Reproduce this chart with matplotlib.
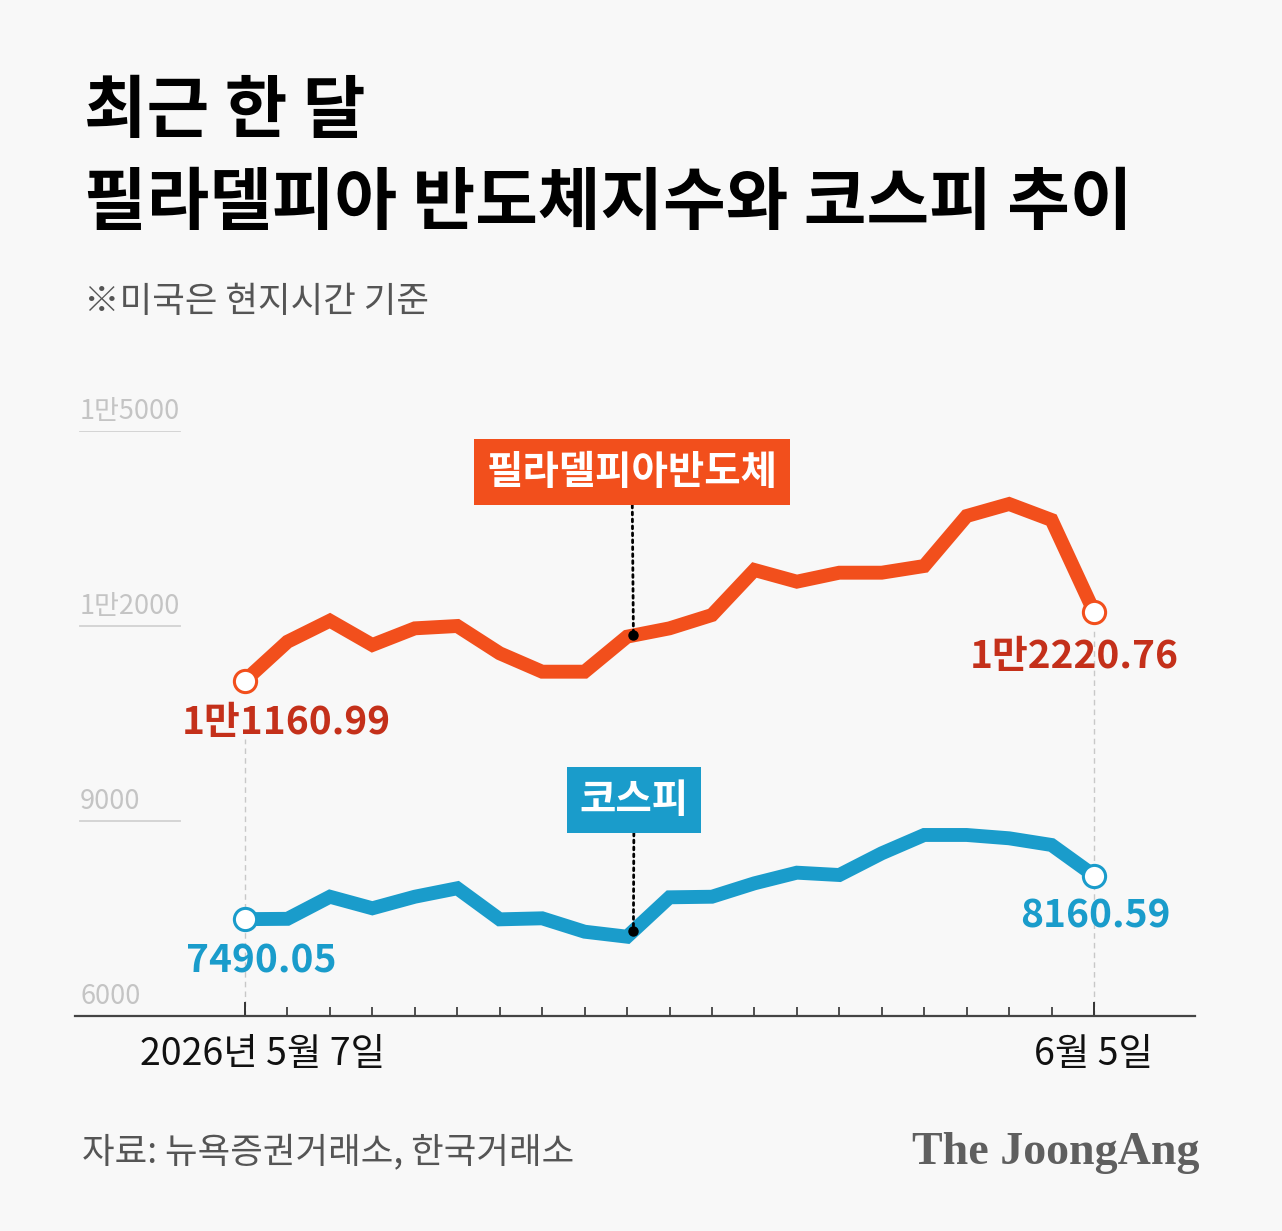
import numpy as np
import matplotlib
matplotlib.use("Agg")
import matplotlib.pyplot as plt
import matplotlib.transforms as mtransforms

plt.rcParams['font.family'] = ['Noto Sans CJK KR', 'DejaVu Sans']

# values (21 trading days, 5/7 -> 6/5)
sox = [11160.99, 11758, 12082, 11708, 11964, 12000, 11580, 11297, 11297, 11836,
       11964, 12169, 12862, 12682, 12820, 12820, 12923, 13692, 13877, 13631, 12220.76]
kospi = [7490.05, 7495, 7835, 7657, 7835, 7965, 7487, 7503, 7297, 7220,
         7826, 7835, 8041, 8205, 8169, 8503, 8785, 8785, 8734, 8631, 8160.59]
yticks = [6000, 9000, 12000, 15000]
ytick_labels = ["6000", "9000", "1만2000", "1만5000"]
x_labels = ["2026년 5월 7일", "6월 5일"]
sox_name = "필라델피아반도체"
kospi_name = "코스피"

ORANGE = "#f24f1c"
RED = "#c4301a"
BLUE = "#1a9ccb"
BG = "#f8f8f8"

W, H = 1282, 1231
fig = plt.figure(figsize=(W / 100, H / 100), dpi=100, facecolor=BG)

def px(x):
    return x / W

def py(y):
    return 1 - y / H

ax = fig.add_axes([px(75), py(1016), (1195 - 75) / W, (1016 - 431) / H])
ax.set_facecolor(BG)
x = np.arange(len(sox))
step = (1094 - 245) / 20
ax.set_xlim(-(245 - 75) / step, (1195 - 245) / step)
ax.set_ylim(6000, 15000)

for s in ["top", "right", "left"]:
    ax.spines[s].set_visible(False)
ax.spines["bottom"].set_color("#444444")
ax.spines["bottom"].set_linewidth(1.6)
ax.set_yticks([])

ax.set_xticks([0, len(x) - 1])
ax.set_xticklabels(x_labels, fontsize=27, color="#111111")
ax.set_xticks(x[1:-1], minor=True)
ax.tick_params(axis="x", which="major", direction="in", length=10, width=1.4,
               color="#333333", pad=14)
ax.tick_params(axis="x", which="minor", direction="in", length=6.5, width=1.2,
               color="#333333")
# first date label sits a bit right of its tick
first = ax.get_xticklabels()[0]
first.set_transform(first.get_transform() +
                    mtransforms.ScaledTranslation(18 / 100, 0, fig.dpi_scale_trans))

# short gridlines with labels
for v, lab in zip(yticks, ytick_labels):
    if v != 6000:
        ax.axhline(v, xmin=5 / 1120, xmax=105 / 1120, color="#d2d2d2", lw=1.3)
    ax.annotate(lab, (-(245 - 80) / step, v), xytext=(0, 4), textcoords="offset points",
                fontsize=19.5, color="#c4c4c4", ha="left", va="bottom")

# dashed guides at first and last day
ax.plot([0, 0], [6000, sox[0] - 900], ls=(0, (4, 3)), color="#c8c8c8", lw=1, zorder=1)
ax.plot([20, 20], [6000, sox[-1] - 300], ls=(0, (4, 3)), color="#c8c8c8", lw=1, zorder=1)

ax.plot(x, sox, color=ORANGE, lw=10, solid_joinstyle="miter", zorder=3)
ax.plot(x, kospi, color=BLUE, lw=10, solid_joinstyle="miter", zorder=3)
for series, c in [(sox, ORANGE), (kospi, BLUE)]:
    ax.plot([x[0], x[-1]], [series[0], series[-1]], "o", ms=16, mfc="white",
            mec=c, mew=2.2, zorder=4)

# end labels
lab_kw = dict(textcoords="offset points", fontsize=28, fontweight="bold",
              ha="center", va="center", zorder=5)
ax.annotate("1만1160.99", (0, sox[0]), xytext=(30, -30), color=RED, **lab_kw)
ax.annotate("1만2220.76", (20, sox[-1]), xytext=(-14, -32), color=RED, **lab_kw)
ax.annotate("7490.05", (0, kospi[0]), xytext=(12, -30), color=BLUE, **lab_kw)
ax.annotate("8160.59", (20, kospi[-1]), xytext=(1, -29), color=BLUE, **lab_kw)

# series name boxes with dotted leaders
xd = 9.15
for name, series, c, tx, ty in [(sox_name, sox, ORANGE, 632, 472),
                                (kospi_name, kospi, BLUE, 634, 800)]:
    yd = np.interp(xd, x, series)
    ax.plot([xd], [yd], "o", color="black", ms=6.5, zorder=6)
    ax.annotate(name, (xd, yd), xytext=(px(tx), py(ty)), textcoords="figure fraction",
                fontsize=28.5, fontweight="bold", color="white", ha="center", va="center",
                bbox=dict(boxstyle="square,pad=0.32", fc=c, ec="none"),
                arrowprops=dict(arrowstyle="-", ls=(0, (1, 1.5)), color="black", lw=2,
                                shrinkA=0, shrinkB=0), zorder=5)

# titles
fig.text(px(84), py(113), "최근 한 달", fontsize=49, fontweight="heavy", color="black",
         ha="left", va="center")
fig.text(px(84), py(204), "필라델피아 반도체지수와 코스피 추이", fontsize=49,
         fontweight="heavy", color="black", ha="left", va="center")
fig.text(px(84), py(302), "※미국은 현지시간 기준", fontsize=25.5, fontweight="medium",
         color="#555555", ha="left", va="center")

fig.text(px(82), py(1152), "자료: 뉴욕증권거래소, 한국거래소", fontsize=25.5,
         fontweight="medium", color="#555555", ha="left", va="center")
fig.text(px(1200), py(1153), "The JoongAng", fontsize=33, fontweight="bold",
         family="Liberation Serif", color="#5f5f5f", ha="right", va="center")

fig.savefig("out.png", dpi=100, facecolor=BG)
